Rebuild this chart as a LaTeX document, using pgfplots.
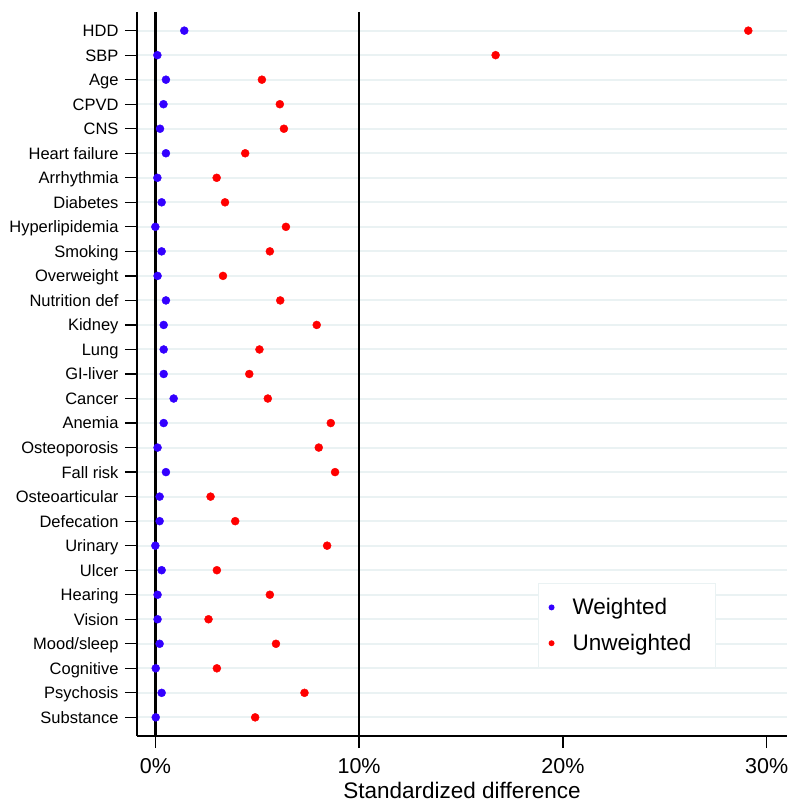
\documentclass[border=0pt]{standalone}
\usepackage{fontspec}
\setmainfont{Liberation Sans}
\usepackage{pgfplots}
\usepackage{pgfplotstable}
\pgfplotsset{compat=1.18}
\definecolor{wblue}{RGB}{51,0,255}
\definecolor{ured}{RGB}{255,0,0}
\definecolor{gridc}{RGB}{234,242,243}
\pgfplotstableread{
i w u
0 1.42 29.10
1 0.10 16.70
2 0.52 5.23
3 0.40 6.11
4 0.23 6.31
5 0.52 4.41
6 0.10 3.01
7 0.31 3.42
8 0.00 6.41
9 0.31 5.62
10 0.11 3.32
11 0.52 6.13
12 0.41 7.92
13 0.41 5.11
14 0.41 4.61
15 0.90 5.52
16 0.41 8.61
17 0.11 8.02
18 0.52 8.82
19 0.21 2.71
20 0.21 3.92
21 0.00 8.43
22 0.31 3.02
23 0.11 5.62
24 0.11 2.61
25 0.21 5.92
26 0.02 3.02
27 0.31 7.32
28 0.02 4.90
}\data
\begin{document}
\begin{tikzpicture}[x=1pt,y=1pt]
\begin{axis}[
  at={(137pt,66pt)}, anchor=south west,
  scale only axis, width=650pt, height=724pt,
  xmin=-0.9, xmax=31, ymin=-0.76, ymax=28.76, y dir=reverse,
  axis x line*=bottom, axis y line*=left,
  axis line style={line width=1.3pt, -},
  tick align=outside, major tick length=12pt,
  tick style={line width=1.3pt, black},
  /pgf/number format/assume math mode=true,
  xtick={0,10,20,30}, xticklabels={0\%,10\%,20\%,30\%},
  ytick={0,...,28},
  yticklabels={HDD,SBP,Age,CPVD,CNS,Heart failure,Arrhythmia,Diabetes,Hyperlipidemia,Smoking,Overweight,Nutrition def,Kidney,Lung,GI-liver,Cancer,Anemia,Osteoporosis,Fall risk,Osteoarticular,Defecation,Urinary,Ulcer,Hearing,Vision,Mood/sleep,Cognitive,Psychosis,Substance},
  ymajorgrids, major grid style={gridc, line width=2pt},
  yticklabel style={font=\fontsize{16.5}{20}\selectfont, anchor=base east, xshift=-3pt, yshift=-5.9pt},
  xticklabel style={font=\fontsize{21.5}{26}\selectfont, yshift=-7pt},
  xlabel={Standardized difference},
  xlabel style={font=\fontsize{22.5}{27}\selectfont, at={(axis description cs:0.5,0)}, anchor=base, yshift=-62pt},
  clip=false,
  legend cell align=left,
  legend image code/.code={\path[draw=none,fill] (0pt,0pt) circle (3pt); \path[draw=none,fill=none] (0pt,0pt) -- (19pt,0pt);},
  legend style={at={(axis description cs:0.617,0.2113)}, anchor=north west,
    draw=gridc, line width=1pt, fill=white,
    font=\fontsize{22.5}{27}\selectfont,
    inner xsep=10pt, inner ysep=13pt, row sep=14pt},
]
\addplot[forget plot, black, line width=2.5pt] coordinates {(0,-0.76) (0,28.76)};
\addplot[forget plot, black, line width=2.5pt] coordinates {(10,-0.76) (10,28.76)};
\addplot[only marks, mark=*, mark size=4pt, color=wblue, mark options={draw=none, fill=wblue}] table[x=w, y=i] {\data};
\addlegendentry{Weighted}
\addplot[only marks, mark=*, mark size=4pt, color=ured, mark options={draw=none, fill=ured}] table[x=u, y=i] {\data};
\addlegendentry{Unweighted\hspace*{12pt}}
\end{axis}
\pgfresetboundingbox
\useasboundingbox (0,0) rectangle (792pt,802pt);
\end{tikzpicture}
\end{document}
